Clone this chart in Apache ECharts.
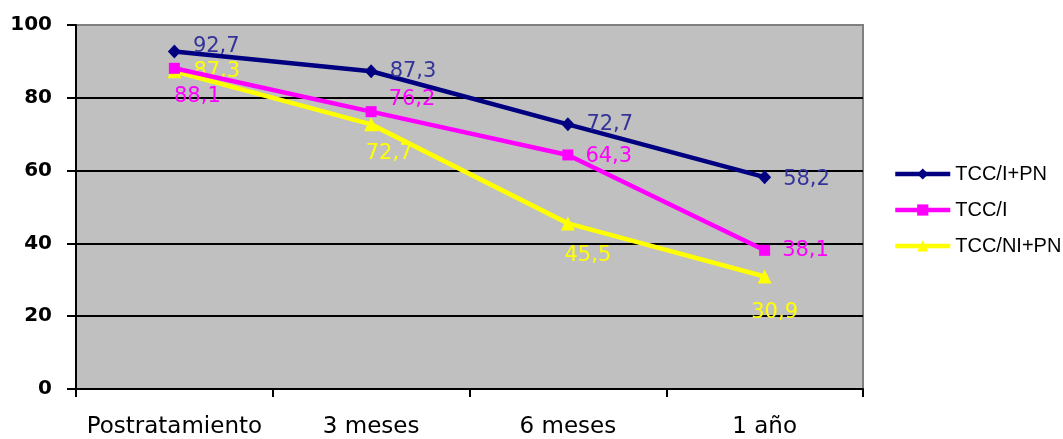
<!DOCTYPE html>
<html>
<head>
<meta charset="utf-8">
<script src="https://cdn.jsdelivr.net/npm/echarts@6/dist/echarts.min.js"></script>
<style>
  html, body { margin: 0; padding: 0; background: #ffffff; }
  #chart { width: 1063px; height: 439px; }
</style>
</head>
<body>
<div id="chart"></div>
<script>
// Categories (time after treatment) and the three survival series
const categories = ['Postratamiento', '3 meses', '6 meses', '1 año'];
const seriesNames = ['TCC/I+PN', 'TCC/I', 'TCC/NI+PN'];
const tccIPN = [92.7, 87.3, 72.7, 58.2];
const tccI = [88.1, 76.2, 64.3, 38.1];
const tccNIPN = [87.3, 72.7, 45.5, 30.9];
const yTicks = [0, 20, 40, 60, 80, 100];

// Per-point label placement for each series
const labelPlacement = [
  [
    { position: 'right', offset: [0, -5] },
    { position: 'right', offset: [0, 0] },
    { position: 'right', offset: [0, 0] },
    { position: 'right', offset: [0, 2] }
  ],
  [
    { position: 'bottom', offset: [23, 0] },
    { position: 'right', offset: [0, -12] },
    { position: 'right', offset: [0, 2] },
    { position: 'right', offset: [0, 0] }
  ],
  [
    { position: 'right', offset: [0, 0] },
    { position: 'bottom', offset: [18, 0] },
    { position: 'bottom', offset: [20, 3] },
    { position: 'bottom', offset: [10, 7] }
  ]
];

const lineColors = ['#000080', '#ff00ff', '#ffff00'];
const labelColors = ['#333399', '#ff00ff', '#ffff00'];
const symbols = ['diamond', 'rect', 'triangle'];
const symbolSizes = [[13, 14], 11, 14];
const values = [tccIPN, tccI, tccNIPN];

const fmt = v => String(v).replace('.', ',');

const series = values.map((vals, s) => ({
  name: seriesNames[s],
  type: 'line',
  data: vals.map((v, i) => ({ value: v, label: labelPlacement[s][i] })),
  symbol: symbols[s],
  symbolSize: symbolSizes[s],
  showAllSymbol: true,
  lineStyle: { color: lineColors[s], width: 4.5 },
  itemStyle: { color: lineColors[s] },
  label: {
    show: true,
    distance: 12,
    color: labelColors[s],
    fontFamily: 'DejaVu Sans',
    fontSize: 21,
    formatter: p => fmt(p.value)
  },
  emphasis: { disabled: true },
  animation: false,
  z: 10 - s
}));

// Legend entries: thick line with the series marker in the middle
const legendData = seriesNames.map((n, s) => ({
  name: n,
  itemStyle: { color: lineColors[s] },
  lineStyle: { color: lineColors[s], width: 4.5 }
}));

const chart = echarts.init(document.getElementById('chart'), null, { renderer: 'canvas' });
chart.setOption({
  backgroundColor: '#ffffff',
  animation: false,
  grid: {
    left: 76, right: 200, top: 25, bottom: 49,
    show: true,
    backgroundColor: '#c0c0c0',
    borderColor: '#808080',
    borderWidth: 2
  },
  legend: {
    orient: 'vertical',
    left: 893,
    top: 164,
    padding: 0,
    itemWidth: 55,
    itemHeight: 14,
    itemGap: 16,
    lineStyle: { width: 4.5 },
    data: legendData,
    textStyle: { fontFamily: 'Liberation Sans', fontSize: 20, color: '#000', lineHeight: 20 }
  },
  xAxis: {
    type: 'category',
    data: categories,
    boundaryGap: true,
    axisLine: { lineStyle: { color: '#000', width: 2 } },
    axisTick: { show: true, interval: 0, length: 8, lineStyle: { color: '#000', width: 2 } },
    axisLabel: {
      interval: 0,
      margin: 27,
      color: '#000',
      fontFamily: 'DejaVu Sans',
      fontSize: 23
    },
    splitLine: { show: false }
  },
  yAxis: {
    type: 'value',
    min: yTicks[0],
    max: yTicks[yTicks.length - 1],
    interval: yTicks[1] - yTicks[0],
    axisLine: { show: true, lineStyle: { color: '#000', width: 2 } },
    axisTick: { show: true, length: 9, lineStyle: { color: '#000', width: 2 } },
    axisLabel: {
      margin: 24,
      color: '#000',
      fontFamily: 'DejaVu Sans',
      fontWeight: 'bold',
      fontSize: 20
    },
    splitLine: {
      show: true,
      lineStyle: { color: ['#000', '#000', '#000', '#000', '#000', '#808080'], width: 2 }
    }
  },
  series: series
});
</script>
</body>
</html>
